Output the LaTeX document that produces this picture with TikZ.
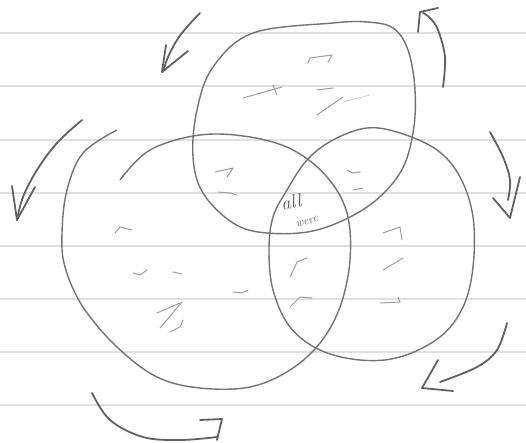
\documentclass[tikz,border=0pt]{standalone}
\usepackage{tikz}
\usetikzlibrary{arrows.meta,calc}

\begin{document}
\begin{tikzpicture}[x=1pt,y=-1pt,
  ruled/.style={draw=black!12,line width=1.3pt},
  blob/.style={draw=black!55,line width=1.4pt},
  swirl/.style={draw=black!62,line width=1.8pt,line cap=round,line join=round},
  scrib/.style={draw=black!38,line width=1pt,line cap=round,line join=round},
  hand/.style={text=black!65,font=\itshape}]
\useasboundingbox (0,0) rectangle (526,443);
\fill[white] (0,0) rectangle (526,443);
% ruled paper
\foreach \y in {33,86,140,193,246,299,352,405}{\draw[ruled] (0,\y) -- (526,\y);}
% top set
\draw[blob] plot[smooth cycle,tension=0.6] coordinates {(333,23) (253,33) (213,67) (197,110) (193,157) (203,193) (233,223) (267,233) (317,230) (367,207) (400,173) (413,133) (415,90) (408,50) (393,28) (367,22)};
% left set (open stroke)
\draw[blob] plot[smooth,tension=0.6] coordinates {(120,180) (150,150) (200,135) (250,137) (293,150) (327,177) (347,213) (350,260) (340,307) (320,343) (290,370) (250,387) (200,388) (157,377) (117,347) (83,307) (65,267) (62,233) (67,190) (83,153) (117,130)};
% right set
\draw[blob] plot[smooth cycle,tension=0.6] coordinates {(307,160) (333,140) (367,128) (400,133) (437,150) (460,177) (473,217) (473,267) (463,307) (440,337) (400,357) (360,360) (320,350) (290,327) (273,290) (269,250) (273,217) (287,190)};
% arrows round the sets
\draw[swirl] plot[smooth,tension=0.6] coordinates {(200,13) (187,27) (177,40) (168,57) (163,72)};
\draw[swirl] (166,45) -- (162,72) -- (188,51);
\draw[swirl] plot[smooth,tension=0.6] coordinates {(82,120) (57,143) (37,170) (23,197) (17,220)};
\draw[swirl] (12,186) -- (17,220) -- (35,187);
\draw[swirl] plot[smooth,tension=0.6] coordinates {(92,393) (110,420) (143,437) (180,440) (217,437)};
\draw[swirl] (200,420) -- (222,419) -- (217,440);
\draw[swirl] plot[smooth,tension=0.6] coordinates {(507,323) (497,350) (477,367) (440,382)};
\draw[swirl] (438,360) -- (422,388) -- (453,391);
\draw[swirl] plot[smooth,tension=0.6] coordinates {(490,132) (503,157) (510,180) (508,200)};
\draw[swirl] (493,198) -- (510,218) -- (520,177);
\draw[swirl] plot[smooth,tension=0.6] coordinates {(443,87) (445,57) (438,30) (430,18) (423,13)};
\draw[swirl] (418,32) -- (420,12) -- (438,8);
% scribbles
\draw[scrib] (308,63) -- (310,58) -- (332,55) -- (328,62);
\draw[scrib] (243,98) -- (282,87);
\draw[scrib] (273,85) -- (277,95);
\draw[scrib] (317,90) -- (333,88);
\draw[scrib] (343,97) -- (317,115);
\draw[draw=black!18,line width=0.8pt] (343,102) -- (370,95);
\draw[scrib] (215,172) -- (233,168) -- (227,177);
\draw[scrib] (218,192) -- (230,193) -- (237,195);
\draw[scrib] (347,170) -- (353,173) -- (360,172);
\draw[scrib] (353,190) -- (363,188);
\draw[scrib] (290,277) -- (297,262) -- (307,258);
\draw[scrib] (290,307) -- (300,297) -- (312,298);
\draw[scrib] (383,233) -- (400,227) -- (402,240);
\draw[scrib] (383,270) -- (403,258);
\draw[scrib] (380,303) -- (400,302) -- (398,297);
\draw[scrib] (115,233) -- (120,227) -- (132,230);
\draw[scrib] (133,273) -- (140,275) -- (147,270);
\draw[scrib] (173,272) -- (182,274);
\draw[scrib] (233,292) -- (242,293) -- (248,290);
\draw[scrib] (157,313) -- (180,303);
\draw[scrib] (160,328) -- (182,302);
\draw[scrib] (170,332) -- (180,327) -- (183,320);
% centre label
\node[hand,font=\itshape\fontsize{19}{19}\selectfont,rotate=12] (all) at (291,202) {all};
\node[hand,font=\itshape\fontsize{12}{12}\selectfont,rotate=16] (were) at (307,222) {were};
\end{tikzpicture}
\end{document}
